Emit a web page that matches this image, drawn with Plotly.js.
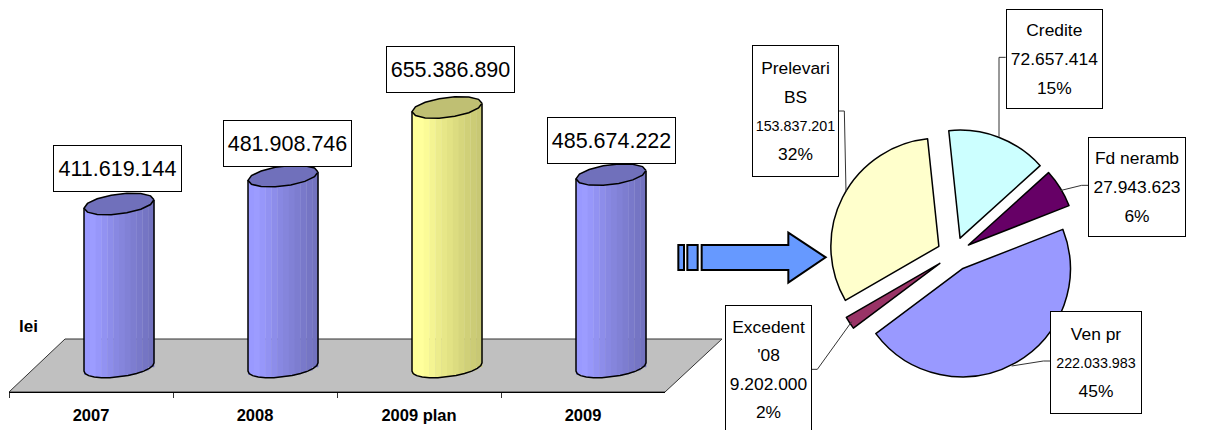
<!DOCTYPE html>
<html><head><meta charset="utf-8">
<script src="https://cdn.plot.ly/plotly-3.0.1.min.js"></script>
<style>html,body{margin:0;padding:0;background:#fff}#c{width:1210px;height:430px}</style>
</head><body><div id="c"></div>
<script>
// ---- data ----
const years = ['2007','2008','2009 plan','2009'];
const totals = [411619144, 481908746, 655386890, 485674222];
const sliceNames = ['Credite','Fd neramb','Ven pr',"Excedent<br>'08",'Prelevari<br>BS'];
const sliceValues = [72657414, 27943623, 222033983, 9202000, 153837201];
const slicePercents = ['15%','6%','45%','2%','32%'];
const sliceColors = ['#CCFFFF','#660066','#9999FF','#993366','#FFFFCC'];

// ---- layout helpers ----
const W=1210,H=430, SANS='"Liberation Sans",Arial,sans-serif';
const px=x=>x/W, py=y=>1-y/H;
const fmt=n=>String(n).replace(/\B(?=(\d{3})+$)/g,'.');
const pxPerVal=0.396/1e6, baseY=367;
const valPerPx=1/pxPerVal;
const halfW=0.2134, bHalf=10*valPerPx, tilt=4.2*valPerPx;
const nBands=12;
const blueRamp=['#9999FF','#9C9CFF','#9797FA','#9292F2','#8D8DEA','#8888E2','#8585DC','#8181D6','#7D7DD0','#7979CA','#7575C4','#7272BF'];
const yellowRamp=['#FFFF99','#FFFF9C','#FBFB97','#F4F492','#ECEC8C','#E7E788','#E2E284','#DCDC80','#D6D67C','#D0D078','#CCCC76','#C8C874'];
const topBlue='#7070BB', topYellow='#BFBF73';

const traces=[];
// category axis carrier
traces.push({type:'scatter',mode:'lines',x:years,y:totals,xaxis:'x',yaxis:'y',line:{width:0,color:'rgba(0,0,0,0)'},hoverinfo:'skip',showlegend:false});
// cylinder bands
const idx=years.map((_,i)=>i);
for(let k=0;k<nBands;k++){
  const u0=-1+2*k/nBands,u1=-1+2*(k+1)/nBands,um=(u0+u1)/2;
  const low=-bHalf*Math.sqrt(Math.max(0,1-um*um))+tilt*um;
  traces.push({type:'bar',x:idx,xaxis:'x2',yaxis:'y',
    y:totals.map(v=>v+tilt*um-low),base:totals.map(()=>low),
    width:(u1-u0)*halfW+0.002,offset:u0*halfW,
    marker:{color:years.map(y=>y==='2009 plan'?yellowRamp[k]:blueRamp[k]),line:{width:0}},
    hoverinfo:'skip',showlegend:false});
}
// outlines
totals.forEach((v,i)=>{
  const xs=[],ys=[];
  xs.push(i-halfW);ys.push(v-tilt);
  for(let t=0;t<=12;t++){const u=-Math.cos(Math.PI*t/12);const s=Math.sin(Math.PI*t/12);xs.push(i+u*halfW);ys.push(-bHalf*s+tilt*u);}
  xs.push(i+halfW);ys.push(v+tilt);
  traces.push({type:'scatter',mode:'lines',x:xs,y:ys,xaxis:'x2',yaxis:'y',line:{color:'#000',width:1.5},hoverinfo:'skip',showlegend:false});
  const tx=[],ty=[];
  for(let t=0;t<=14;t++){const a=2*Math.PI*t/14;const u=Math.cos(a);tx.push(i+u*halfW);ty.push(v+bHalf*Math.sin(a)+tilt*u);}
  traces.push({type:'scatter',mode:'lines',x:tx,y:ty,xaxis:'x2',yaxis:'y',fill:'toself',fillcolor:years[i]==='2009 plan'?topYellow:topBlue,line:{color:'#000',width:1.5},hoverinfo:'skip',showlegend:false});
});
// pie
traces.push({type:'pie',values:sliceValues,labels:['Credite','Fd neramb','Ven pr',"Excedent '08",'Prelevari BS'],sort:false,direction:'clockwise',rotation:-6,
  pull:0.157,textinfo:'none',hoverinfo:'skip',showlegend:false,
  marker:{colors:sliceColors,line:{color:'#000',width:1.5}},
  domain:{x:[px(829),px(1079)],y:[py(379),py(129)]}});

// shapes
const poly=pts=>'M'+pts.map(p=>px(p[0])+','+py(p[1])).join('L');
const pathShape=(pts,fill,close,w,lc,layer)=>({type:'path',xref:'paper',yref:'paper',layer:layer||'above',
  path:poly(pts)+(close?'Z':''),fillcolor:fill||'rgba(0,0,0,0)',line:{color:lc||'#000',width:w}});
const Z=(x,y)=>[670+x/3,y/3];
const shapes=[
  pathShape([[9,392],[65,339],[722,339],[665,392]],'#C0C0C0',true,1,'#333','below'),
  pathShape([Z(95,735),Z(355,735),Z(355,698),Z(467,772),Z(355,848),Z(355,810),Z(95,810)],'#6699FF',true,2),
  pathShape([Z(25,735),Z(42,735),Z(42,810),Z(25,810)],'#6699FF',true,2),
  pathShape([Z(52,735),Z(83,735),Z(83,810),Z(52,810)],'#6699FF',true,2),
  pathShape([Z(1007,172),Z(987,172),Z(987,410)],null,false,1,'#333'),
  pathShape([Z(503,333),Z(523,333),Z(528,575)],null,false,1,'#333'),
  pathShape([Z(1255,556),Z(1235,556),Z(1170,572)],null,false,1,'#333'),
  pathShape([Z(424,1108),Z(442,1108),Z(545,965)],null,false,1,'#333'),
  pathShape([Z(1140,1083),Z(1120,1083),Z(1025,1098)],null,false,1,'#333')
];

// annotations
const annotations=[];
const valueBoxDx=[-2,4.5,3,0], valueBoxDy=[-35.5,-32.2,-37.5,-33.7];
totals.forEach((v,i)=>annotations.push({xref:'x2',yref:'y',x:i,y:v,xanchor:'center',yanchor:'middle',xshift:valueBoxDx[i],yshift:-valueBoxDy[i],showarrow:false,
  text:fmt(v),font:{family:SANS,size:21.5,color:'#000'},bgcolor:'#fff',bordercolor:'#000',borderwidth:1,borderpad:0,width:127,height:45,align:'center',valign:'middle'}));
annotations.push({xref:'paper',yref:'paper',x:px(28),y:py(326),xanchor:'center',yanchor:'middle',showarrow:false,text:'<b>lei</b>',font:{family:SANS,size:17,color:'#000'}});
// pie boxes: [left,top,right,bottom] in page pixels
const boxes=[[1006,9,1102,108],[1088,137,1185,236],[1050,311,1141,413],[725,305,811,433],[752,46,838,177]];
const narrowNum=[false,false,true,false,true];
sliceNames.forEach((n,i)=>{
  const b=boxes[i];
  const num=fmt(sliceValues[i]);
  const sz=s=>`<span style="font-size:${s}px">`;
  const nameTxt=n.split('<br>').map(t=>sz(17.4)+t+'</span>').join('<br>');
  const numTxt=sz(narrowNum[i]?14.3:17.4)+num+'</span>';
  annotations.push({xref:'paper',yref:'paper',x:px((b[0]+b[2])/2),y:py((b[1]+b[3])/2),xanchor:'center',yanchor:'middle',showarrow:false,
    text:`${nameTxt}<br>${numTxt}<br>${sz(17.4)}${slicePercents[i]}</span>`,font:{family:SANS,size:22,color:'#000'},bgcolor:'#fff',bordercolor:'#000',borderwidth:1,borderpad:0,
    width:b[2]-b[0]-1,height:b[3]-b[1]-1,align:'center',valign:'middle'});
});

const layout={width:W,height:H,margin:{l:0,r:0,t:0,b:0},paper_bgcolor:'#fff',plot_bgcolor:'rgba(0,0,0,0)',showlegend:false,barmode:'overlay',
  xaxis:{type:'category',domain:[px(9),px(665)],range:[-0.5,3.5],anchor:'free',position:py(392),tickson:'boundaries',ticks:'outside',ticklen:5,tickcolor:'#333',ticklabelstandoff:8,
    showline:true,linecolor:'#000',showgrid:false,zeroline:false,tickfont:{family:SANS,size:16.5,color:'#000',weight:'bold'},fixedrange:true,categoryorder:'array',categoryarray:years},
  xaxis2:{type:'linear',domain:[px(37),px(693)],range:[-0.5,3.5],visible:false,anchor:'y',fixedrange:true},
  yaxis:{domain:[0,1],range:[-(H-baseY)*valPerPx,baseY*valPerPx],visible:false,fixedrange:true},
  shapes,annotations};
Plotly.newPlot('c',traces,layout,{displayModeBar:false,staticPlot:true});
</script></body></html>
